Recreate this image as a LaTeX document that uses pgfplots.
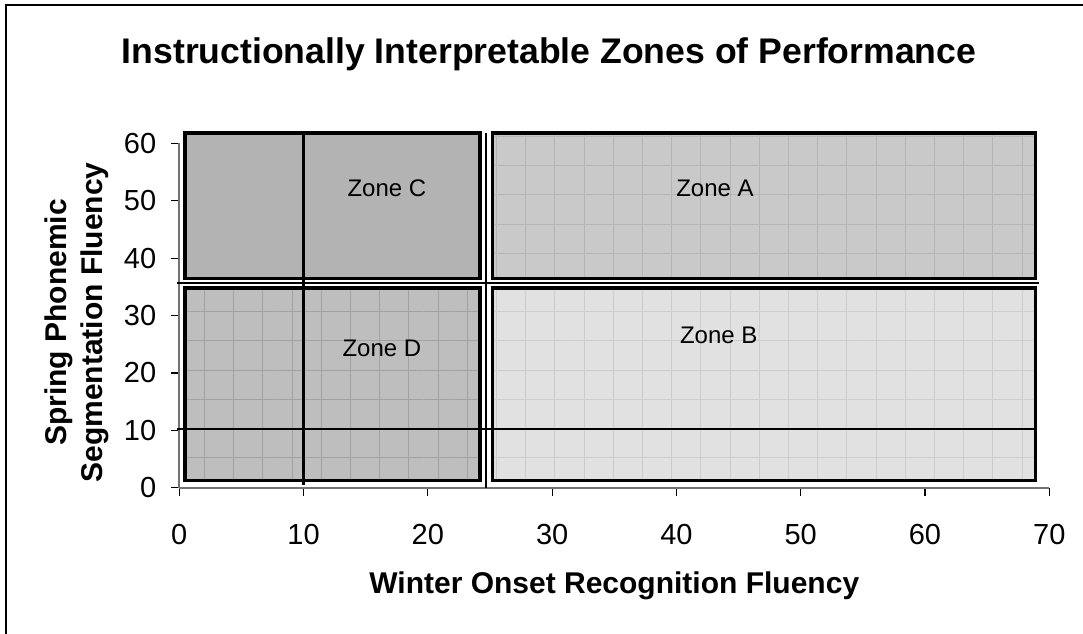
\documentclass[border=0pt]{standalone}
\usepackage{fontspec}
\setmainfont{Liberation Sans}
\usepackage{pgfplots}
\pgfplotsset{compat=1.18}
\usetikzlibrary{patterns.meta}
\definecolor{zC}{HTML}{B3B3B3}
\definecolor{zA}{HTML}{C9C9C9}
\definecolor{gA}{HTML}{B4B4B4}
\definecolor{zD}{HTML}{BEBEBE}
\definecolor{gD}{HTML}{A2A2A2}
\definecolor{zB}{HTML}{E1E1E1}
\definecolor{gB}{HTML}{CCCCCC}
\begin{document}
\begin{tikzpicture}[x=1pt,y=1pt]
\useasboundingbox (0,0) rectangle (541.5,-316.5);
\draw[line width=1pt] (560,-2.65) -- (3,-2.65) -- (3,-330);
\begin{axis}[
  at={(89.65pt,-243.85pt)}, anchor=south west,
  scale only axis, width=435pt, height=172.2pt,
  xmin=0, xmax=70, ymin=0, ymax=60,
  clip=false,
  axis lines=left,
  axis line style={-, draw=black!55, line width=0.8pt},
  xtick={0,10,...,70}, ytick={0,10,...,60},
  tick align=outside, major tick length=4pt,
  tick style={black, line width=0.6pt},
  /pgf/number format/assume math mode=true,
  ticklabel style={font=\fontsize{14.5}{17}\selectfont},
  xticklabel style={anchor=base, yshift=-24.5pt},
  yticklabel style={anchor=east, xshift=-4pt},
  title={Instructionally Interpretable Zones of Performance},
  title style={at={(rel axis cs:0.425,1.233)}, anchor=base, inner sep=0pt, yshift=-6pt,
    font=\fontsize{17.8}{21}\selectfont\bfseries},
  xlabel={Winter Onset Recognition Fluency},
  xlabel style={at={(rel axis cs:0.5,0)}, anchor=base, yshift=-53pt, inner sep=0pt,
    font=\fontsize{15}{18}\selectfont\bfseries},
  ylabel={Spring Phonemic\\Segmentation Fluency},
  ylabel style={at={(rel axis cs:-0.0805,0.48)}, anchor=south, inner sep=0pt, align=center,
    font=\fontsize{15}{18}\selectfont\bfseries},
]
% Zone C
\addplot[draw=black, line width=1.6pt, fill=zC, mark=none]
  coordinates {(0.46,36.5) (24.2,36.5) (24.2,61.8) (0.46,61.8)} -- cycle;
% Zone A
\addplot[draw=black, line width=1.6pt, mark=none, preaction={fill=zA},
  pattern={Hatch[distance=14.6pt,line width=0.5pt]}, pattern color=gA]
  coordinates {(25.2,36.5) (68.9,36.5) (68.9,61.8) (25.2,61.8)} -- cycle;
% Zone D
\addplot[draw=black, line width=1.6pt, mark=none, preaction={fill=zD},
  pattern={Hatch[distance=14.6pt,line width=0.5pt]}, pattern color=gD]
  coordinates {(0.46,1.2) (24.2,1.2) (24.2,34.8) (0.46,34.8)} -- cycle;
% Zone B
\addplot[draw=black, line width=1.6pt, mark=none, preaction={fill=zB},
  pattern={Hatch[distance=14.6pt,line width=0.5pt]}, pattern color=gB]
  coordinates {(25.2,1.2) (68.9,1.2) (68.9,34.8) (25.2,34.8)} -- cycle;
% Cut lines
\addplot[black, line width=1.1pt, mark=none] coordinates {(10,0.4) (10,61.8)};
\addplot[black, line width=1pt, mark=none] coordinates {(24.68,0) (24.68,61.8)};
\addplot[black, line width=1pt, mark=none] coordinates {(-0.15,35.6) (69.2,35.6)};
\addplot[black, line width=1pt, mark=none] coordinates {(-0.2,10.15) (68.9,10.15)};
% Zone labels
\node[font=\fontsize{12}{14}\selectfont] at (axis cs:16.7,52.2) {Zone C};
\node[font=\fontsize{12}{14}\selectfont] at (axis cs:43.1,52.2) {Zone A};
\node[font=\fontsize{12}{14}\selectfont] at (axis cs:16.3,24.2) {Zone D};
\node[font=\fontsize{12}{14}\selectfont] at (axis cs:43.4,26.5) {Zone B};
\end{axis}
\end{tikzpicture}
\end{document}
